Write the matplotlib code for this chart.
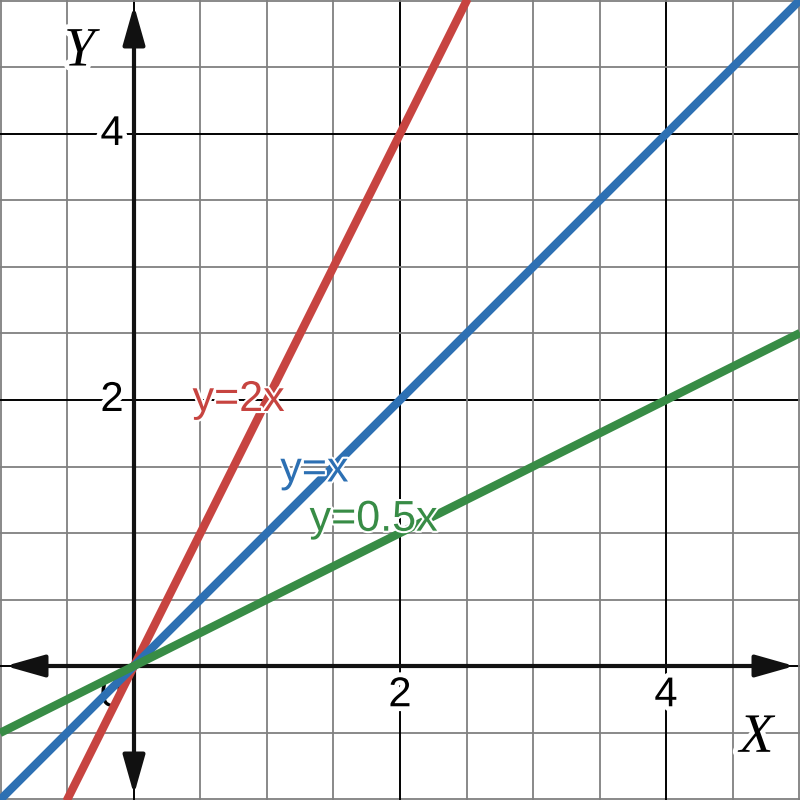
import matplotlib
matplotlib.use("Agg")
from matplotlib import pyplot as plt
from matplotlib.patches import FancyArrowPatch
import matplotlib.patheffects as pe
import numpy as np

slopes = [2, 1, 0.5]
names = ["y=2x", "y=x", "y=0.5x"]
colors = ["#c74440", "#2d70b3", "#388c46"]
label_pos = [(0.44, 2.0), (1.10, 1.47), (1.32, 1.10)]

x_ticks = [2, 4]
y_ticks = [2, 4]

lo, hi = -1.0075, 5.0075

fig = plt.figure(figsize=(8, 8), dpi=100)
ax = fig.add_axes([0, 0, 1, 1])
ax.set_xlim(lo, hi)
ax.set_ylim(lo, hi)
for s in ax.spines.values():
    s.set_visible(False)
ax.set_xticks([])
ax.set_yticks([])

# grid: minor every 0.5, major every 2
for v in np.arange(-1, 5.01, 0.5):
    major = abs(v % 2) < 1e-9
    c = "black" if major else "#808080"
    lw = 1.4 if major else 1.3
    ax.axvline(v, color=c, lw=lw, zorder=1)
    ax.axhline(v, color=c, lw=lw, zorder=1)

# axes with arrows
arr = "<|-|>,head_length=1.2,head_width=0.34"
ax.add_patch(FancyArrowPatch((lo + 0.02, 0), (hi - 0.02, 0), arrowstyle=arr,
                             mutation_scale=20, lw=3, color="#111111", zorder=3))
ax.add_patch(FancyArrowPatch((0, lo + 0.02), (0, hi - 0.02), arrowstyle=arr,
                             mutation_scale=20, lw=3, color="#111111", zorder=3))

fs = 30
halo = [pe.withStroke(linewidth=7, foreground="white")]
for t in x_ticks:
    ax.text(t, -0.22, str(t), ha="center", va="center", fontsize=fs,
            family="Liberation Sans", zorder=4, path_effects=halo)
for t in y_ticks:
    ax.text(-0.165, t, str(t), ha="center", va="center", fontsize=fs,
            family="Liberation Sans", zorder=4, path_effects=halo)
ax.text(-0.17, -0.22, "0", ha="center", va="center", fontsize=fs,
        family="Liberation Sans", zorder=4, path_effects=halo)

xs = np.array([lo, hi])
for m, c in zip(slopes, colors):
    ax.plot(xs, m * xs, color=c, lw=6, zorder=5, solid_capstyle="butt")

for (lx, ly), n, c in zip(label_pos, names, colors):
    ax.text(lx, ly, n, color=c, ha="left", va="center", fontsize=31,
            family="Liberation Sans", zorder=6,
            path_effects=[pe.withStroke(linewidth=3, foreground="white")])

ax.text(-0.41, 4.62, "Y", ha="center", va="center", fontsize=40,
        family="Liberation Serif", style="italic", zorder=4, path_effects=halo)
ax.text(4.68, -0.54, "X", ha="center", va="center", fontsize=40,
        family="Liberation Serif", style="italic", zorder=4, path_effects=halo)

fig.savefig("out.png", dpi=100)
